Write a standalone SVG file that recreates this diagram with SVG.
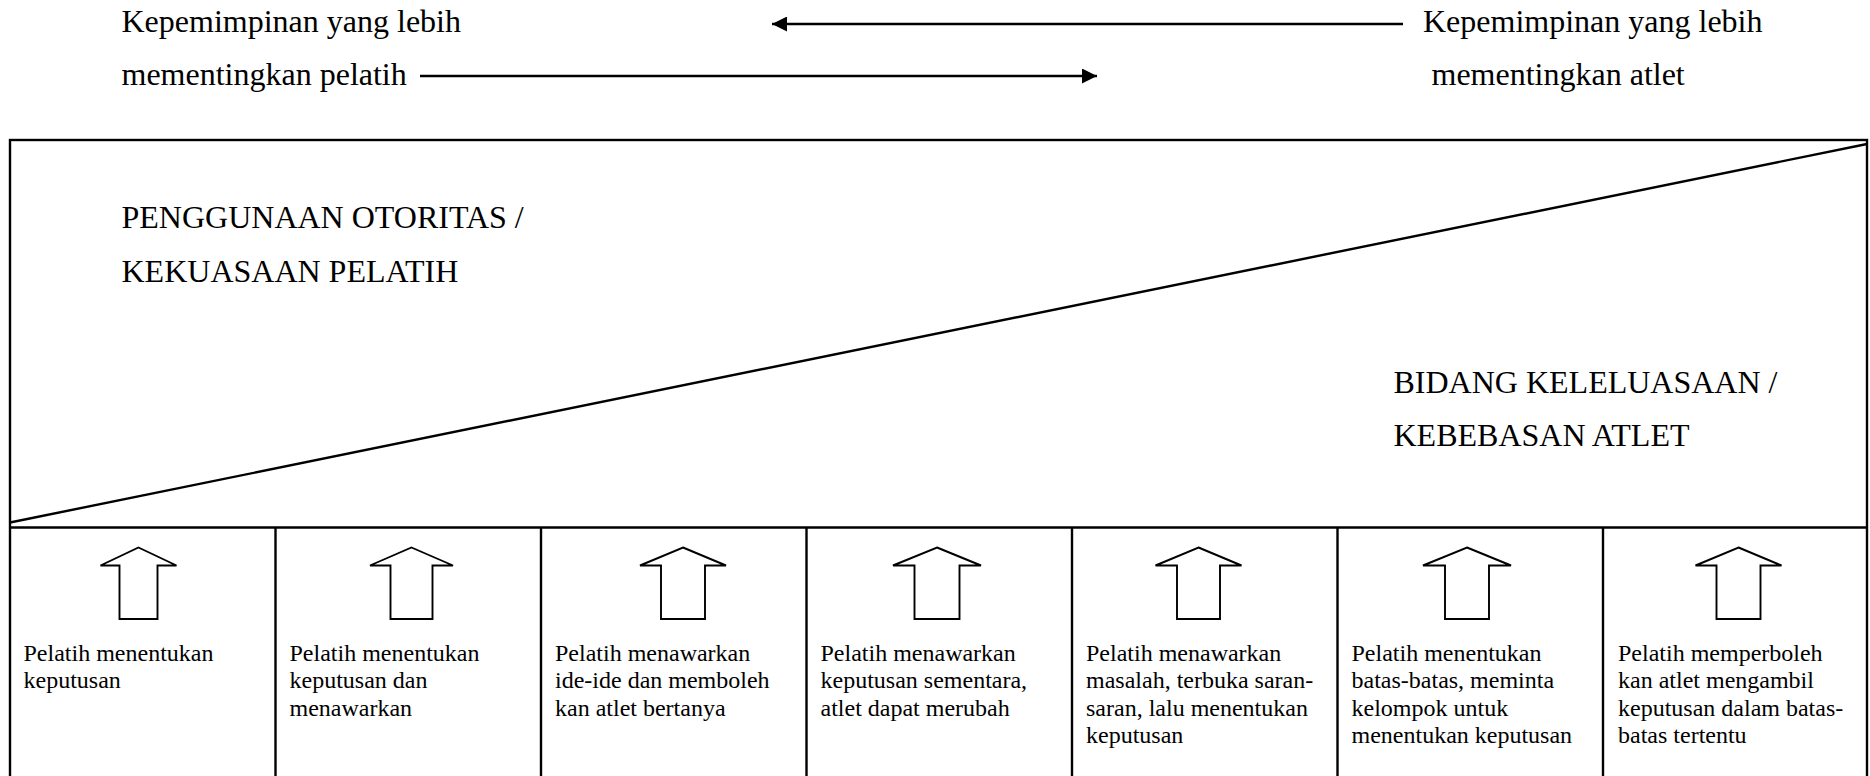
<svg xmlns="http://www.w3.org/2000/svg" width="1870" height="776" viewBox="0 0 1870 776">
<style>
  text { font-family: "Liberation Serif", "Times New Roman", serif; fill: #000; }
  .big { font-size: 32px; }
  .cell { font-size: 24px; }
  .frame { fill: none; stroke: #000; stroke-width: 2.4; }
  .conn { fill: none; stroke: #000; stroke-width: 2.6; }
  .up { fill: #fff; stroke: #000; stroke-width: 1.9; stroke-linejoin: miter; }
</style>
<defs>
  <marker id="ah" viewBox="0 0 15 15" refX="15" refY="7.5" markerWidth="15" markerHeight="15" markerUnits="userSpaceOnUse" orient="auto">
    <path d="M0,0 L15,7.5 L0,15 Z" fill="#000"/>
  </marker>
</defs>
<rect width="1870" height="776" fill="#fff"/>

<g id="label-left">
  <text class="big" x="121.5" y="32">Kepemimpinan yang lebih</text>
  <text class="big" x="121.5" y="85">mementingkan pelatih</text>
</g>
<g id="label-right">
  <text class="big" x="1423" y="32">Kepemimpinan yang lebih</text>
  <text class="big" x="1431.5" y="85">mementingkan atlet</text>
</g>

<g id="connectors">
  <line class="conn" x1="1403" y1="24" x2="772" y2="24" marker-end="url(#ah)"/>
  <line class="conn" x1="420" y1="76" x2="1097" y2="76" marker-end="url(#ah)"/>
</g>

<g id="frame">
  <rect class="frame" x="10" y="140" width="1857" height="650"/>
  <line class="frame" x1="10" y1="522.5" x2="1867" y2="144"/>
  <line class="frame" x1="10" y1="527.5" x2="1867" y2="527.5"/>
  <line class="frame" x1="275.5" y1="527.5" x2="275.5" y2="780"/>
  <line class="frame" x1="541" y1="527.5" x2="541" y2="780"/>
  <line class="frame" x1="806.5" y1="527.5" x2="806.5" y2="780"/>
  <line class="frame" x1="1072" y1="527.5" x2="1072" y2="780"/>
  <line class="frame" x1="1337.5" y1="527.5" x2="1337.5" y2="780"/>
  <line class="frame" x1="1603" y1="527.5" x2="1603" y2="780"/>
</g>

<g id="area-coach">
  <text class="big" x="121.5" y="228">PENGGUNAAN OTORITAS /</text>
  <text class="big" x="121.5" y="282">KEKUASAAN PELATIH</text>
</g>
<g id="area-athlete">
  <text class="big" x="1393.5" y="393">BIDANG KELELUASAAN /</text>
  <text class="big" x="1393.5" y="446">KEBEBASAN ATLET</text>
</g>

<g id="col1">
  <path class="up" d="M138.5,547.5 L176.5,565.5 L157.5,565.5 L157.5,619 L119.5,619 L119.5,565.5 L100.5,565.5 Z"/>
  <text class="cell" x="23.5" y="661">Pelatih menentukan</text>
  <text class="cell" x="23.5" y="688.3">keputusan</text>
</g>
<g id="col2">
  <path class="up" d="M411.5,547.5 L453,565.5 L432.5,565.5 L432.5,619 L390.5,619 L390.5,565.5 L370,565.5 Z"/>
  <text class="cell" x="289.5" y="661">Pelatih menentukan</text>
  <text class="cell" x="289.5" y="688.3">keputusan dan</text>
  <text class="cell" x="289.5" y="715.6">menawarkan</text>
</g>
<g id="col3">
  <path class="up" d="M683,547.5 L726,565.5 L705,565.5 L705,619 L661,619 L661,565.5 L640,565.5 Z"/>
  <text class="cell" x="555" y="661">Pelatih menawarkan</text>
  <text class="cell" x="555" y="688.3">ide-ide dan memboleh</text>
  <text class="cell" x="555" y="715.6">kan atlet bertanya</text>
</g>
<g id="col4">
  <path class="up" d="M937,547.5 L981,565.5 L959.5,565.5 L959.5,619 L914.5,619 L914.5,565.5 L893,565.5 Z"/>
  <text class="cell" x="820.5" y="661">Pelatih menawarkan</text>
  <text class="cell" x="820.5" y="688.3">keputusan sementara,</text>
  <text class="cell" x="820.5" y="715.6">atlet dapat merubah</text>
</g>
<g id="col5">
  <path class="up" d="M1198.5,547.5 L1241.5,565.5 L1220,565.5 L1220,619 L1177,619 L1177,565.5 L1155.5,565.5 Z"/>
  <text class="cell" x="1086" y="661">Pelatih menawarkan</text>
  <text class="cell" x="1086" y="688.3">masalah, terbuka saran-</text>
  <text class="cell" x="1086" y="715.6">saran, lalu menentukan</text>
  <text class="cell" x="1086" y="742.9">keputusan</text>
</g>
<g id="col6">
  <path class="up" d="M1467,547.5 L1511,565.5 L1489,565.5 L1489,619 L1445,619 L1445,565.5 L1423,565.5 Z"/>
  <text class="cell" x="1351.5" y="661">Pelatih menentukan</text>
  <text class="cell" x="1351.5" y="688.3">batas-batas, meminta</text>
  <text class="cell" x="1351.5" y="715.6">kelompok untuk</text>
  <text class="cell" x="1351.5" y="742.9">menentukan keputusan</text>
</g>
<g id="col7">
  <path class="up" d="M1738.5,547.5 L1781.5,565.5 L1760.5,565.5 L1760.5,619 L1716.5,619 L1716.5,565.5 L1695.5,565.5 Z"/>
  <text class="cell" x="1618" y="661">Pelatih memperboleh</text>
  <text class="cell" x="1618" y="688.3">kan atlet mengambil</text>
  <text class="cell" x="1618" y="715.6">keputusan dalam batas-</text>
  <text class="cell" x="1618" y="742.9">batas tertentu</text>
</g>
</svg>
